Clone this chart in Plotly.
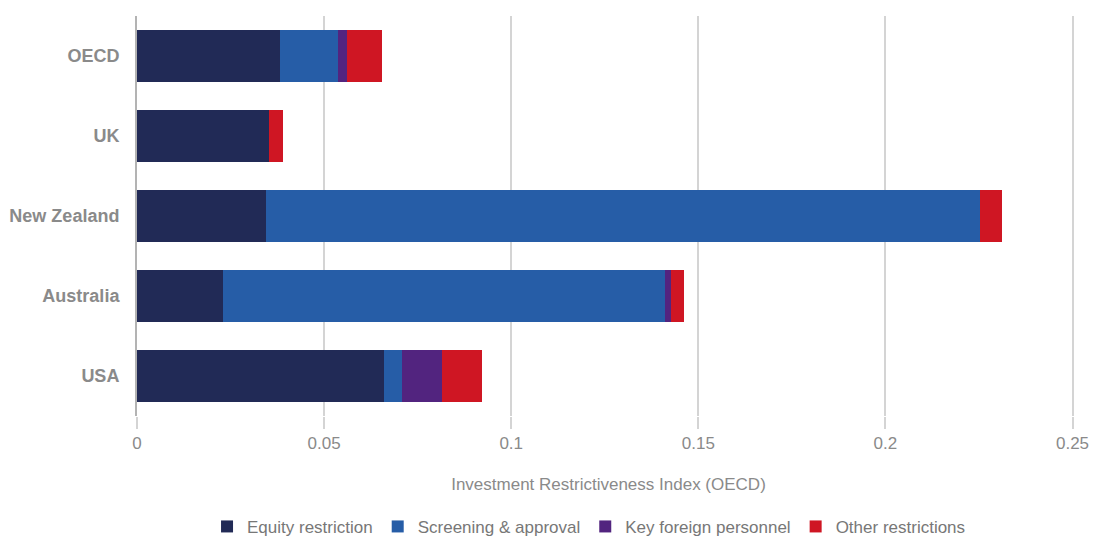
import plotly.graph_objects as go

categories = ["OECD", "UK", "New Zealand", "Australia", "USA"]
equity = [0.0383, 0.0353, 0.0346, 0.0231, 0.0661]
screening = [0.0153, 0.0, 0.1906, 0.1179, 0.0046]
key_personnel = [0.0024, 0.0, 0.0, 0.0016, 0.0109]
other = [0.0096, 0.0038, 0.0059, 0.0037, 0.0107]

series = [
    ("Equity restriction", equity, "#212A56"),
    ("Screening & approval", screening, "#265DA7"),
    ("Key foreign personnel", key_personnel, "#52247F"),
    ("Other restrictions", other, "#CF1623"),
]

tick_vals = [0, 0.05, 0.1, 0.15, 0.2, 0.25]
tick_text = ["0", "0.05", "0.1", "0.15", "0.2", "0.25"]

FONT = "Liberation Sans, Arial, sans-serif"
GRAY = "#8a8a8a"

fig = go.Figure()
for name, vals, color in series:
    fig.add_trace(go.Bar(
        y=categories, x=vals, name=name, orientation="h",
        marker=dict(color=color, line=dict(width=0)),
    ))

fig.update_layout(
    width=1101, height=536,
    barmode="stack", bargap=0.35,
    plot_bgcolor="white", paper_bgcolor="white",
    margin=dict(l=137, r=21, t=16, b=120),
    font=dict(family=FONT, color=GRAY),
    legend=dict(
        orientation="h", xref="container", yref="container",
        x=0.535, xanchor="center", y=0.017, yanchor="middle",
        font=dict(size=17, color="#777777"),
        traceorder="normal", itemclick=False,
    ),
    xaxis=dict(
        range=[0, 0.252], tickvals=tick_vals, ticktext=tick_text,
        showgrid=True, gridcolor="#d4d4d4", gridwidth=2,
        zeroline=False, showline=False,
        ticks="outside", ticklen=12, tickcolor="#d4d4d4", tickwidth=2,
        ticklabelstandoff=0,
        tickfont=dict(size=17, color=GRAY),
        title=dict(text="Investment Restrictiveness Index (OECD)",
                   font=dict(size=17, color=GRAY), standoff=25),
        automargin=False,
        fixedrange=True,
    ),
    yaxis=dict(
        autorange="reversed", showgrid=False, zeroline=False,
        showline=True, linecolor="#b3b3b3", linewidth=2,
        ticks="", ticklabelstandoff=12,
        tickfont=dict(size=18, color=GRAY, family=FONT, weight="bold"),
        automargin=False,
        fixedrange=True,
    ),
)

fig.write_html("out.html")
